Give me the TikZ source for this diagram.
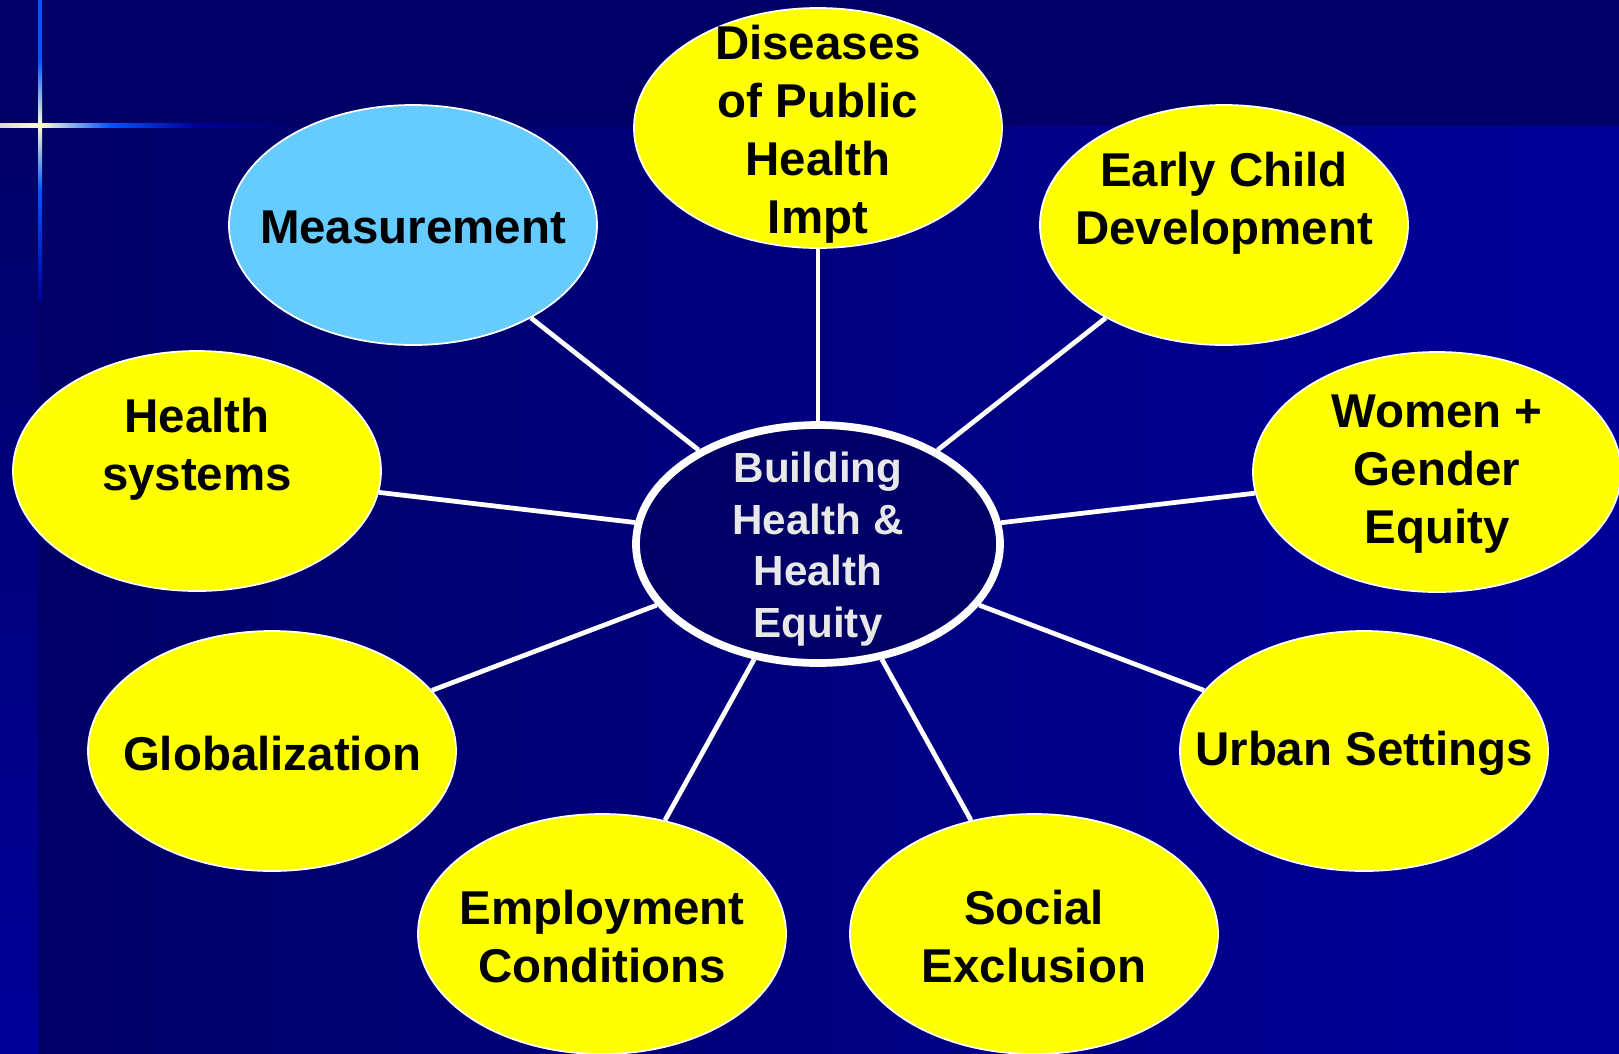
\documentclass[tikz,border=0pt]{standalone}
\usepackage{fontspec}
\setmainfont{Liberation Sans}
\usetikzlibrary{shapes.geometric}

\definecolor{navydark}{RGB}{0,0,102}
\definecolor{navymid}{RGB}{0,0,153}
\definecolor{glowblue}{RGB}{0,85,255}
\definecolor{glowcore}{RGB}{255,255,210}
\definecolor{topicyellow}{RGB}{255,255,0}
\definecolor{topicsky}{RGB}{102,204,255}
\definecolor{hubtext}{RGB}{232,232,232}

\begin{document}
\begin{tikzpicture}[
    topic/.style={ellipse, draw=white, line width=0.5pt, fill=topicyellow,
                  minimum width=3.68cm, minimum height=2.40cm, inner sep=0pt},
    hub/.style={ellipse, draw=white, line width=2.2pt, fill=navydark,
                minimum width=3.64cm, minimum height=2.38cm, inner sep=0pt},
    topictext/.style={align=center, text=black, yshift=-0.025cm,
                      font=\fontsize{13.5}{16.5}\selectfont\bfseries},
    hubtext/.style={align=center, text=hubtext, yshift=-0.05cm,
                    font=\fontsize{12}{14.7}\selectfont\bfseries},
    spoke/.style={draw=white, line width=1.35pt}
]
    % Background panels
    \useasboundingbox (0,0) rectangle (16.19,-10.53);
    \fill[navydark] (0,0) rectangle (16.19,-10.53);
    \shade[left color=navydark, right color=navymid] (0.38,-1.26) rectangle (16.19,-10.53);
    \shade[top color=navydark, bottom color=navymid] (0,-1.26) rectangle (0.38,-10.53);

    % Glowing cross in the corner
    \shade[left color=white!70!gray, right color=glowcore] (0,-1.23) rectangle (0.40,-1.27);
    \shade[left color=glowcore, right color=glowblue] (0.40,-1.23) rectangle (1.10,-1.27);
    \shade[left color=glowblue, right color=navymid] (1.10,-1.23) rectangle (1.95,-1.27);
    \shade[left color=navymid, right color=navydark] (1.95,-1.23) rectangle (3.00,-1.27);
    \fill[glowblue] (0.38,0) rectangle (0.42,-0.60);
    \shade[top color=glowblue, bottom color=glowcore] (0.38,-0.60) rectangle (0.42,-1.25);
    \shade[top color=glowcore, bottom color=glowblue] (0.38,-1.25) rectangle (0.42,-1.90);
    \shade[top color=glowblue, bottom color=navymid] (0.38,-1.90) rectangle (0.42,-3.00);

    % Hub and topics
    \node[hub] (hub) at (8.18,-5.44) {};
    \node[topic, fill=topicsky] (measure) at (4.13,-2.25) {};
    \node[topic] (disease) at (8.18,-1.28) {};
    \node[topic] (early) at (12.24,-2.25) {};
    \node[topic] (women) at (14.37,-4.72) {};
    \node[topic] (healthsys) at (1.97,-4.71) {};
    \node[topic] (global) at (2.72,-7.51) {};
    \node[topic] (urban) at (13.64,-7.51) {};
    \node[topic] (employ) at (6.02,-9.34) {};
    \node[topic] (social) at (10.34,-9.34) {};

    % Spokes
    \foreach \t in {measure, disease, early, women, healthsys, global, urban, employ, social}
        \draw[spoke] (hub) -- (\t);

    % Texts
    \node[hubtext] (hub-t) at (hub) {Building\\Health \&\\Health\\Equity};
    \node[topictext] (measure-t) at (measure) {Measurement};
    \node[topictext, yshift=-0.04cm] (disease-t) at (disease) {Diseases\\of Public\\Health\\Impt};
    \node[topictext] (early-t) at (early) {Early Child\\Development\\\mbox{}};
    \node[topictext] (women-t) at (women) {Women +\\Gender\\Equity};
    \node[topictext] (healthsys-t) at (healthsys) {Health\\systems\\\mbox{}};
    \node[topictext] (global-t) at (global) {Globalization};
    \node[topictext] (urban-t) at (urban) {Urban Settings};
    \node[topictext] (employ-t) at (employ) {Employment\\Conditions};
    \node[topictext] (social-t) at (social) {Social\\Exclusion};

\end{tikzpicture}
\end{document}
